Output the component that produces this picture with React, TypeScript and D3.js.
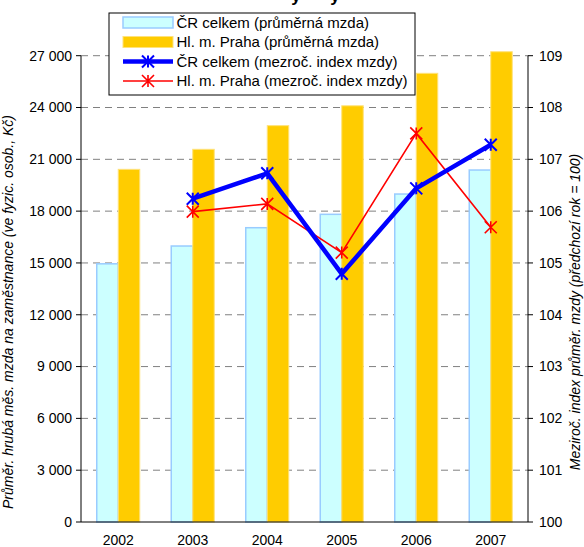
import React from 'react';
import * as d3 from 'd3';

const years = ['2002', '2003', '2004', '2005', '2006', '2007'];
const crWage = [14950, 15980, 17040, 17815, 18990, 20380];
const prahaWage = [20420, 21580, 22950, 24100, 25980, 27230];
const crIndex: (number | null)[] = [null, 106.24, 106.73, 104.79, 106.44, 107.28];
const prahaIndex: (number | null)[] = [null, 105.99, 106.14, 105.2, 107.5, 105.69];
const leftTicks = [0, 3000, 6000, 9000, 12000, 15000, 18000, 21000, 24000, 27000];
const rightTicks = [100, 101, 102, 103, 104, 105, 106, 107, 108, 109];
const legendLabels = [
  'ČR celkem (průměrná mzda)',
  'Hl. m. Praha (průměrná mzda)',
  'ČR celkem (mezroč. index mzdy)',
  'Hl. m. Praha (mezroč. index mzdy)',
];
const leftTitle = 'Průměr. hrubá měs. mzda na zaměstnance (ve fyzic. osob., Kč)';
const rightTitle = 'Meziroč. index průměr. mzdy (předchozí rok = 100)';

const W = 584;
const H = 547;
const M = { left: 81, right: 528, top: 55.7, bottom: 522 };
const FONT = "'Liberation Sans', Arial, sans-serif";

const fmt = (v: number) => d3.format(',')(v).replace(/,/g, ' ');

function starPath(s: number) {
  return `M0,${-s}V${s}M${-s},${-s}L${s},${s}M${-s},${s}L${s},${-s}`;
}

export default function App() {
  const x = d3.scaleBand<string>().domain(years).range([M.left, M.right]).paddingInner(0).paddingOuter(0);
  const yL = d3.scaleLinear().domain([0, 27000]).range([M.bottom, M.top]);
  const yR = d3.scaleLinear().domain([100, 109]).range([M.bottom, M.top]);
  const barW = 21.5;

  const line = d3
    .line<{ year: string; v: number | null }>()
    .defined((d) => d.v !== null)
    .x((d) => (x(d.year) as number) + x.bandwidth() / 2)
    .y((d) => yR(d.v as number));

  const crPts = years.map((year, i) => ({ year, v: crIndex[i] }));
  const prPts = years.map((year, i) => ({ year, v: prahaIndex[i] }));

  const titleY = 312;
  const legendRows = [22.5, 42, 61.5, 81];
  const lx0 = 123;
  const lx1 = 173;

  return (
    <div style={{ position: 'absolute', left: 0, top: 0 }}>
      <svg width={W} height={H} style={{ display: 'block', fontFamily: FONT }}>
        <rect x={0} y={0} width={W} height={H} fill="#fff" />
        {/* clipped title remnants */}
        <text x={296} y={1.5} fontSize={17} fontWeight="bold" textAnchor="middle">y</text>
        <text x={335} y={1.5} fontSize={17} fontWeight="bold" textAnchor="middle">y</text>

        {/* gridlines */}
        {leftTicks.filter((t) => t > 0).map((t) => (
          <line key={t} x1={M.left} x2={M.right} y1={yL(t)} y2={yL(t)} stroke="#808080" strokeWidth={1} strokeDasharray="7,5" />
        ))}

        {/* bars */}
        {years.map((yr, i) => {
          const cx = (x(yr) as number) + x.bandwidth() / 2;
          return (
            <g key={yr}>
              <rect x={cx - barW} y={yL(crWage[i])} width={barW} height={M.bottom - yL(crWage[i])} fill="#CCFFFF" stroke="#99CCFF" strokeWidth={1.5} />
              <rect x={cx} y={yL(prahaWage[i])} width={barW} height={M.bottom - yL(prahaWage[i])} fill="#FFCC00" stroke="#FFE27A" strokeWidth={1} />
            </g>
          );
        })}

        {/* lines */}
        <path d={line(prPts) || ''} fill="none" stroke="#FF0000" strokeWidth={1.6} />
        <path d={line(crPts) || ''} fill="none" stroke="#0000FF" strokeWidth={4.5} strokeLinejoin="round" />
        {crPts.filter((d) => d.v !== null).map((d) => (
          <path key={'c' + d.year} d={starPath(6)} transform={`translate(${(x(d.year) as number) + x.bandwidth() / 2},${yR(d.v as number)})`} stroke="#0000FF" strokeWidth={2} fill="none" />
        ))}
        {prPts.filter((d) => d.v !== null).map((d) => (
          <path key={'p' + d.year} d={starPath(6)} transform={`translate(${(x(d.year) as number) + x.bandwidth() / 2},${yR(d.v as number)})`} stroke="#FF0000" strokeWidth={1.6} fill="none" />
        ))}

        {/* axes */}
        <line x1={M.left} x2={M.left} y1={M.top} y2={M.bottom} stroke="#000" />
        <line x1={M.right} x2={M.right} y1={M.top} y2={M.bottom} stroke="#000" />
        <line x1={M.left} x2={M.right} y1={M.bottom} y2={M.bottom} stroke="#000" />
        {leftTicks.map((t) => (
          <g key={'l' + t}>
            <line x1={M.left - 5} x2={M.left} y1={yL(t)} y2={yL(t)} stroke="#000" />
            <text x={M.left - 9} y={yL(t)} dy="0.35em" fontSize={14} textAnchor="end">{fmt(t)}</text>
          </g>
        ))}
        {rightTicks.map((t) => (
          <g key={'r' + t}>
            <line x1={M.right} x2={M.right + 5} y1={yR(t)} y2={yR(t)} stroke="#000" />
            <text x={M.right + 11} y={yR(t)} dy="0.35em" fontSize={14} textAnchor="start">{t}</text>
          </g>
        ))}
        {years.map((yr) => (
          <text key={'x' + yr} x={(x(yr) as number) + x.bandwidth() / 2} y={545} fontSize={14} textAnchor="middle">{yr}</text>
        ))}

        {/* axis titles */}
        <text transform={`translate(12.5,${titleY}) rotate(-90)`} fontSize={14} fontStyle="italic" textAnchor="middle">{leftTitle}</text>
        <text transform={`translate(580,${titleY}) rotate(-90)`} fontSize={14} fontStyle="italic" textAnchor="middle">{rightTitle}</text>

        {/* legend */}
        <rect x={109} y={13} width={306} height={82} fill="#fff" stroke="#000" strokeWidth={1} />
        <rect x={lx0} y={legendRows[0] - 5.5} width={lx1 - lx0} height={11} fill="#CCFFFF" stroke="#99CCFF" strokeWidth={1.5} />
        <rect x={lx0} y={legendRows[1] - 5.5} width={lx1 - lx0} height={11} fill="#FFCC00" stroke="#FFE27A" strokeWidth={1} />
        <line x1={lx0} x2={lx1} y1={legendRows[2]} y2={legendRows[2]} stroke="#0000FF" strokeWidth={4.5} />
        <path d={starPath(6)} transform={`translate(${(lx0 + lx1) / 2},${legendRows[2]})`} stroke="#0000FF" strokeWidth={2} fill="none" />
        <line x1={lx0} x2={lx1} y1={legendRows[3]} y2={legendRows[3]} stroke="#FF0000" strokeWidth={1.6} />
        <path d={starPath(6)} transform={`translate(${(lx0 + lx1) / 2},${legendRows[3]})`} stroke="#FF0000" strokeWidth={1.6} fill="none" />
        {legendLabels.map((l, i) => (
          <text key={l} x={176.5} y={legendRows[i]} dy="0.35em" fontSize={15}>{l}</text>
        ))}
      </svg>
    </div>
  );
}
